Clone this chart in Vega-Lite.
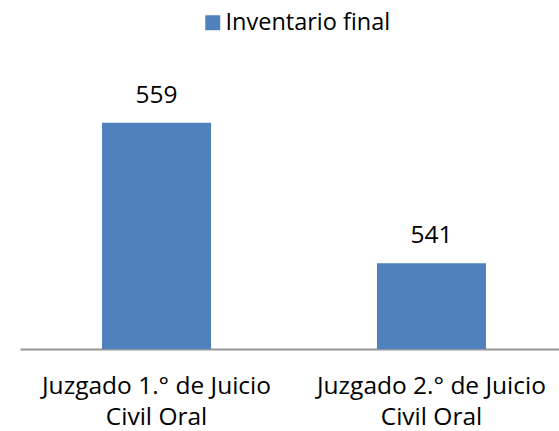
{
  "$schema": "https://vega.github.io/schema/vega-lite/v6.json",
  "width": 539,
  "height": 273,
  "autosize": {"type": "none"},
  "padding": {"left": 20, "top": 76, "right": 0, "bottom": 82},
  "background": "white",
  "config": {
    "view": {"stroke": null},
    "font": "Open Sans"
  },
  "data": {
    "values": [
      {"juzgado": "Juzgado 1.° de Juicio Civil Oral", "serie": "Inventario final", "valor": 559},
      {"juzgado": "Juzgado 2.° de Juicio Civil Oral", "serie": "Inventario final", "valor": 541}
    ]
  },
  "encoding": {
    "x": {
      "field": "juzgado",
      "type": "nominal",
      "sort": null,
      "title": null,
      "scale": {"paddingInner": 0.6036, "paddingOuter": 0.282, "align": 0.529},
      "axis": {
        "labelAngle": 0,
        "ticks": false,
        "tickSize": 0,
        "domainColor": "#969696",
        "domainWidth": 2,
        "labelFont": "Open Sans",
        "labelFontSize": 24.5,
        "labelColor": "#000000",
        "labelPadding": 44,
        "labelBaseline": "alphabetic",
        "labelLineHeight": 31,
        "labelLimit": 400,
        "labelExpr": "[slice(datum.label, 0, 21), slice(datum.label, 22)]"
      }
    },
    "y": {
      "field": "valor",
      "type": "quantitative",
      "scale": {"domain": [530, 565], "zero": false, "nice": false},
      "axis": null
    }
  },
  "layer": [
    {
      "mark": {"type": "bar"},
      "encoding": {
        "y2": {"datum": 530},
        "color": {
          "field": "serie",
          "type": "nominal",
          "scale": {"range": ["#4F81BD"]},
          "legend": {
            "title": null,
            "orient": "none",
            "legendX": 181,
            "legendY": -65,
            "symbolType": "square",
            "symbolSize": 225,
            "symbolStrokeWidth": 0,
            "labelFont": "Open Sans",
            "labelFontSize": 23.5,
            "labelColor": "#000000",
            "labelOffset": 1,
            "labelLimit": 400
          }
        }
      }
    },
    {
      "mark": {"type": "text", "baseline": "alphabetic", "dy": -20, "fontSize": 24.5, "font": "Open Sans", "color": "#000000"},
      "encoding": {
        "text": {"field": "valor", "type": "quantitative"}
      }
    }
  ]
}
